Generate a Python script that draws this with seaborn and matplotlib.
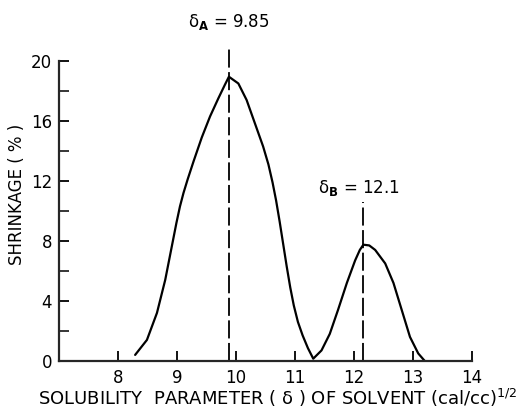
import seaborn as sns
import pandas as pd
import matplotlib.pyplot as plt

# solubility parameter vs shrinkage
delta = [8.29, 8.49, 8.66, 8.80, 8.87, 8.93, 8.99, 9.05, 9.11, 9.18, 9.28, 9.42, 9.56,
         9.70, 9.81, 9.88,
         10.04, 10.18, 10.32, 10.46, 10.55, 10.62, 10.68, 10.74, 10.80, 10.86, 10.92,
         10.98, 11.05, 11.13, 11.22, 11.31,
         11.45, 11.59, 11.73, 11.88, 12.02, 12.10, 12.16, 12.26, 12.36, 12.53, 12.67,
         12.81, 12.95, 13.09, 13.20]
shrinkage = [0.4, 1.4, 3.2, 5.4, 6.8, 8.0, 9.2, 10.3, 11.2, 12.1, 13.3, 14.9, 16.3,
             17.5, 18.4, 18.95,
             18.5, 17.4, 15.85, 14.3, 13.1, 11.9, 10.7, 9.3, 7.8, 6.3, 4.9,
             3.7, 2.6, 1.7, 0.85, 0.15,
             0.7, 1.8, 3.4, 5.2, 6.7, 7.4, 7.75, 7.7, 7.4, 6.5, 5.2,
             3.4, 1.6, 0.5, 0.0]

peak_x = [9.88, 12.16]
peak_top = [20.9, 10.6]
peak_labels = [r"δ$_{\mathbf{A}}$ = 9.85", r"δ$_{\mathbf{B}}$ = 12.1"]
label_pos = [(9.88, 22.6), (12.08, 11.5)]

xticks = [8, 9, 10, 11, 12, 13, 14]
yticks = [0, 4, 8, 12, 16, 20]

df = pd.DataFrame({"delta": delta, "shrinkage": shrinkage})

sns.set_style("ticks")
plt.rcParams['font.family'] = ['DejaVu Sans']
plt.rcParams['text.color'] = 'black'
plt.rcParams['axes.labelcolor'] = 'black'

fig = plt.figure(figsize=(5.18, 4.12), dpi=100)
ax = fig.add_axes([0.114, 0.124, 0.797, 0.728])

sns.lineplot(data=df, x="delta", y="shrinkage", sort=False, color="black", lw=1.6, ax=ax)
ax.vlines(peak_x, 0, peak_top, colors="black", linestyles=(0, (10, 2.5)), lw=1.3, clip_on=False)

for txt, (x, y) in zip(peak_labels, label_pos):
    ax.text(x, y, txt, ha="center", va="center", fontsize=12, clip_on=False)

ax.set_xlim(7, 14)
ax.set_ylim(0, 20)
ax.set_xticks(xticks)
ax.set_yticks(yticks)
ax.set_yticks(range(2, 20, 4), minor=True)
ax.tick_params(direction="in", length=7, width=1.3, labelsize=12, colors="black")
ax.tick_params(axis="y", which="minor", direction="in", length=7, width=1.3)
ax.tick_params(axis="x", pad=6)
ax.tick_params(axis="y", pad=5)
sns.despine(ax=ax)
for s in ["left", "bottom"]:
    ax.spines[s].set_linewidth(1.6)

ax.set_xlabel(r"SOLUBILITY  PARAMETER ( δ ) OF SOLVENT (cal/cc)$^{1/2}$", fontsize=13, va="center")
ax.set_ylabel("SHRINKAGE ( % )", fontsize=12)
ax.xaxis.set_label_coords(0.53, -0.125)
ax.yaxis.set_label_coords(-0.08, 0.555)

plt.savefig("out.png", dpi=100)
